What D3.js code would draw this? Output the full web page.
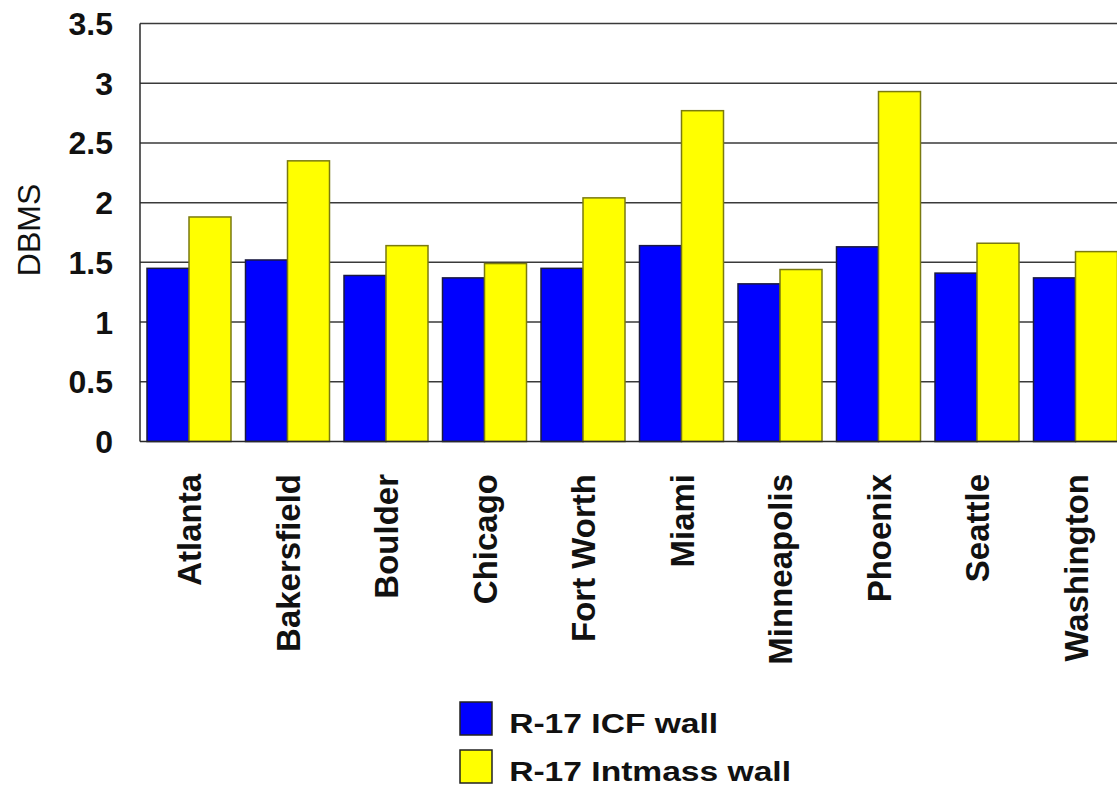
<!DOCTYPE html>
<html>
<head>
<meta charset="utf-8">
<script src="https://cdn.jsdelivr.net/npm/d3@7"></script>
<style>
  html, body { margin: 0; padding: 0; background: #fff; overflow: hidden; }
  svg { display: block; font-family: "Liberation Sans", Arial, sans-serif; }
</style>
</head>
<body>
<svg id="chart" width="1117" height="791"></svg>
<script>
// Cities compared
const cities = ["Atlanta", "Bakersfield", "Boulder", "Chicago", "Fort Worth",
                "Miami", "Minneapolis", "Phoenix", "Seattle", "Washington"];
// Series names
const seriesNames = ["R-17 ICF wall", "R-17 Intmass wall"];
// DBMS values per city
const icfWall = [1.45, 1.52, 1.39, 1.37, 1.45, 1.64, 1.32, 1.63, 1.41, 1.37];
const intmassWall = [1.88, 2.35, 1.64, 1.49, 2.04, 2.77, 1.44, 2.93, 1.66, 1.59];
// Y axis ticks
const yTicks = [0, 0.5, 1, 1.5, 2, 2.5, 3, 3.5];
const yTickLabels = ["0", "0.5", "1", "1.5", "2", "2.5", "3", "3.5"];

const colors = { "R-17 ICF wall": "#0000ff", "R-17 Intmass wall": "#ffff00" };
const strokes = { "R-17 ICF wall": "#1a1a40", "R-17 Intmass wall": "#7a7a10" };

const svg = d3.select("#chart");
const plot = { left: 140, right: 1125, top: 23.5, bottom: 441.5 };

const y = d3.scaleLinear().domain([0, 3.5]).range([plot.bottom, plot.top]);
const x0 = d3.scaleBand().domain(cities).range([plot.left, plot.right]).padding(0);
const x1 = d3.scaleBand().domain(seriesNames).range([7, x0.bandwidth() - 7.5]).padding(0);

const rows = cities.map((c, i) => ({
  city: c,
  values: [
    { key: seriesNames[0], value: icfWall[i] },
    { key: seriesNames[1], value: intmassWall[i] }
  ]
}));

// horizontal gridlines
svg.append("g").selectAll("line")
  .data(yTicks.filter(t => t > 0))
  .join("line")
  .attr("x1", plot.left).attr("x2", plot.right)
  .attr("y1", d => y(d)).attr("y2", d => y(d))
  .attr("stroke", "#3a3a3a").attr("stroke-width", 1.5);

// bars
const groups = svg.append("g").selectAll("g")
  .data(rows)
  .join("g")
  .attr("transform", d => `translate(${x0(d.city)},0)`);

groups.selectAll("rect")
  .data(d => d.values)
  .join("rect")
  .attr("x", d => x1(d.key))
  .attr("y", d => y(d.value))
  .attr("width", x1.bandwidth())
  .attr("height", d => y(0) - y(d.value))
  .attr("fill", d => colors[d.key])
  .attr("stroke", d => strokes[d.key])
  .attr("stroke-width", 1.5);

// axis frame: left and bottom
svg.append("line")
  .attr("x1", plot.left).attr("x2", plot.left)
  .attr("y1", plot.top).attr("y2", plot.bottom)
  .attr("stroke", "#2a2a2a").attr("stroke-width", 1.5);
svg.append("line")
  .attr("x1", plot.left).attr("x2", plot.right)
  .attr("y1", plot.bottom).attr("y2", plot.bottom)
  .attr("stroke", "#2a2a2a").attr("stroke-width", 1.5);

// y tick labels
svg.append("g").selectAll("text")
  .data(yTicks)
  .join("text")
  .attr("x", 113)
  .attr("y", d => y(d))
  .attr("dy", "0.36em")
  .attr("text-anchor", "end")
  .attr("font-size", 32)
  .attr("font-weight", "bold")
  .attr("fill", "#111")
  .text((d, i) => yTickLabels[i]);

// y axis title
svg.append("text")
  .attr("transform", "translate(40,230) rotate(-90)")
  .attr("text-anchor", "middle")
  .attr("font-size", 32)
  .attr("fill", "#111")
  .text("DBMS");

// category labels, rotated
svg.append("g").selectAll("text")
  .data(cities)
  .join("text")
  .attr("transform", d => `translate(${x0(d) + x0.bandwidth() / 2 + 12},474) rotate(-90)`)
  .attr("text-anchor", "end")
  .attr("font-size", 33)
  .attr("font-weight", "bold")
  .attr("fill", "#111")
  .text(d => d);

// legend
const legend = svg.append("g").selectAll("g")
  .data(seriesNames)
  .join("g")
  .attr("transform", (d, i) => `translate(460,${702 + i * 48})`);

legend.append("rect")
  .attr("width", 32).attr("height", 33)
  .attr("fill", d => colors[d])
  .attr("stroke", "#222").attr("stroke-width", 1.5);

legend.append("text")
  .attr("x", 41)
  .attr("y", 31)
  .attr("font-size", 28)
  .attr("font-weight", "bold")
  .attr("fill", "#111")
  .attr("transform", "scale(1.2,1)")
  .text(d => d);
</script>
</body>
</html>
